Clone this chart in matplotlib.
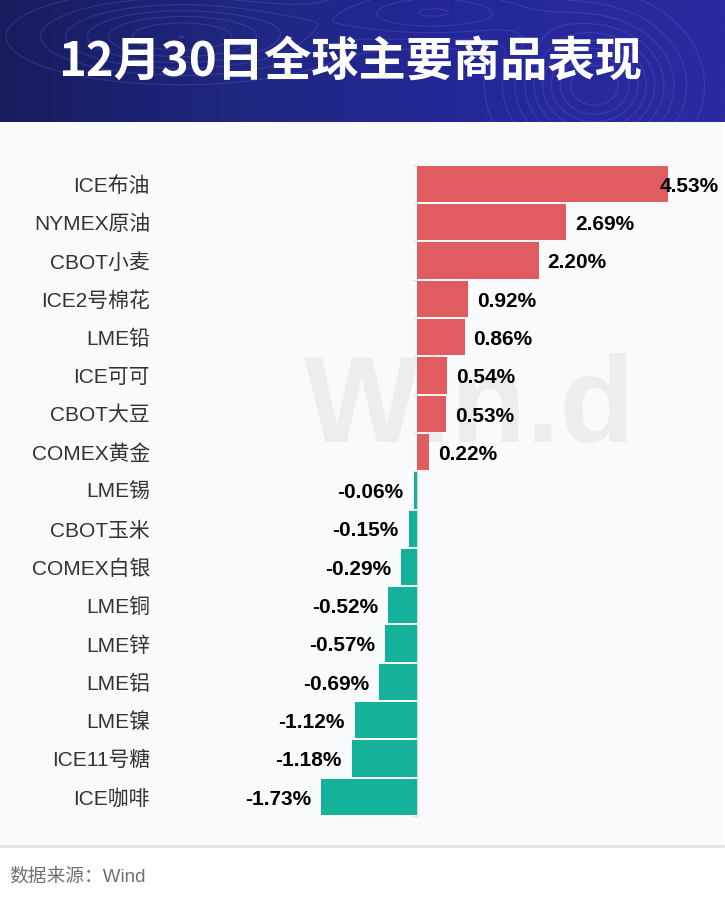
import numpy as np
import matplotlib
matplotlib.use("Agg")
import matplotlib.pyplot as plt
import matplotlib.transforms as mtransforms
from matplotlib.patches import Rectangle

plt.rcParams['font.family'] = ['Liberation Sans', 'Noto Sans CJK SC', 'DejaVu Sans']

# data
commodities = ['ICE布油', 'NYMEX原油', 'CBOT小麦', 'ICE2号棉花', 'LME铅', 'ICE可可',
               'CBOT大豆', 'COMEX黄金', 'LME锡', 'CBOT玉米', 'COMEX白银', 'LME铜',
               'LME锌', 'LME铝', 'LME镍', 'ICE11号糖', 'ICE咖啡']
changes = [4.53, 2.69, 2.20, 0.92, 0.86, 0.54, 0.53, 0.22, -0.06, -0.15, -0.29,
           -0.52, -0.57, -0.69, -1.12, -1.18, -1.73]

title = '12月30日全球主要商品表现'
source = '数据来源：Wind'

RED = '#e05c60'
TEAL = '#14b29b'

W, H = 725, 900
fig = plt.figure(figsize=(W / 100, H / 100), dpi=100)
fig.patch.set_facecolor('white')

# background axes for panel, shadow and watermark (in pixel units)
bg = fig.add_axes([0, 0, 1, 1], zorder=0)
bg.set_xlim(0, W)
bg.set_ylim(H, 0)
bg.axis('off')
bg.add_patch(Rectangle((0, 845), W, 3, facecolor='#e6e7eb', edgecolor='none'))
bg.add_patch(Rectangle((0, 122), W - 3, 845 - 122, facecolor='#f9fafc', edgecolor='none'))
bg.text(470, 410, 'Win.d', fontsize=88, fontweight='bold', color='#ededf0',
        ha='center', va='center')
bg.text(9, 877, source, fontsize=13.5, color='#707070', ha='left', va='center')

# header band
head_h = 122
hax = fig.add_axes([0, 1 - head_h / H, 1, head_h / H], zorder=1)
grad = np.linspace(0, 1, 300)[None, :] * np.ones((60, 1))
cmap = matplotlib.colors.LinearSegmentedColormap.from_list(
    'hdr', ['#181c5e', '#1f2780', '#24289a', '#2c2aa0'])
hax.imshow(grad, cmap=cmap, aspect='auto', extent=[0, 1, 0, 1])
gx, gy = np.meshgrid(np.linspace(0, 1, 300), np.linspace(0, 1, 80))
bumps = (np.exp(-((gx - 0.82) ** 2 / 0.01 + (gy - 0.3) ** 2 / 0.25))
         + 0.7 * np.exp(-((gx - 0.25) ** 2 / 0.03 + (gy - 0.7) ** 2 / 0.08))
         + 0.5 * np.exp(-((gx - 0.6) ** 2 / 0.02 + (gy - 0.9) ** 2 / 0.05)))
hax.contour(gx, gy, bumps, levels=10, colors='#8a78ff', linewidths=0.8, alpha=0.22)
hax.set_xlim(0, 1)
hax.set_ylim(0, 1)
hax.axis('off')
hax.text(350 / W, 0.49, title, color='white', fontsize=34, fontweight='bold',
         ha='center', va='center', transform=hax.transAxes,
         family=['Noto Sans CJK SC', 'DejaVu Sans'])

# chart axes: zero at x=417px, 55.4 px per percent
px_per = 55.4
zero_px = 417
xmin = -zero_px / px_per
xmax = (W - zero_px) / px_per
row = 38.3
n = len(commodities)
top_px = 184 - row / 2
ax = fig.add_axes([0, 1 - (top_px + n * row) / H, 1, n * row / H], zorder=2)
ax.set_facecolor('none')
ax.set_xlim(xmin, xmax)
ax.set_ylim(n - 0.5, -0.5)

y = np.arange(n)
colors = [RED if v >= 0 else TEAL for v in changes]
ax.barh(y, changes, height=0.95, color=colors, zorder=2)

for sp in ['top', 'right', 'bottom']:
    ax.spines[sp].set_visible(False)
ax.spines['left'].set_position(('data', 0))
ax.spines['left'].set_color('#d9dbe0')
ax.spines['left'].set_zorder(1)
ax.set_xticks([])
ax.set_yticks([])
ax.set_yticks(np.arange(n + 1) - 0.5, minor=True)
ax.tick_params(axis='y', which='minor', length=3, color='#d9dbe0', labelleft=False)

dy = 0.06  # nudge text down a couple of pixels
lab_tr = mtransforms.blended_transform_factory(ax.transAxes, ax.transData)
for i, (name, v) in enumerate(zip(commodities, changes)):
    ax.text(150 / W, i + dy, name, transform=lab_tr, ha='right', va='center',
            fontsize=15, color='#333333')
    txt = f'{v:.2f}%'
    if v >= 0:
        if v > 4:
            ax.text(xmax - 0.12, i + dy, txt, ha='right', va='center', fontsize=15,
                    fontweight='bold', color='black', zorder=3)
        else:
            ax.text(v + 0.16, i + dy, txt, ha='left', va='center', fontsize=15,
                    fontweight='bold', color='black', zorder=3)
    else:
        ax.text(v - 0.18, i + dy, txt, ha='right', va='center', fontsize=15,
                fontweight='bold', color='black', zorder=3)

fig.savefig('out.png', dpi=100)
